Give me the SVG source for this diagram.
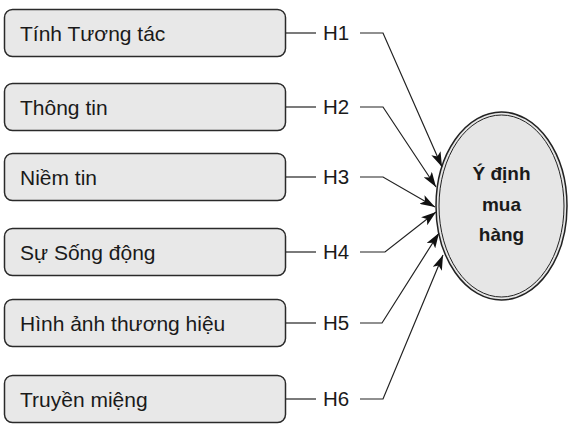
<svg xmlns="http://www.w3.org/2000/svg" width="575" height="428" viewBox="0 0 575 428">
<style>
.box{fill:#e8e8e8;stroke:#2a2a2a;stroke-width:1.5}
.lbl{font-family:"Liberation Sans",Arial,sans-serif;font-size:21px;fill:#1a1a1a}
.h{font-family:"Liberation Sans",Arial,sans-serif;font-size:20.5px;fill:#1a1a1a}
.ln{fill:none;stroke:#222;stroke-width:1.2}
.arr{fill:none;stroke:#222;stroke-width:1.2;marker-end:url(#ah)}
.ct{font-family:"Liberation Sans",Arial,sans-serif;font-size:19px;font-weight:bold;fill:#1a1a1a;text-anchor:middle}
</style>
<defs>
<marker id="ah" markerUnits="userSpaceOnUse" markerWidth="16" markerHeight="10" refX="15" refY="5" orient="auto">
<path d="M0,0 L15,5 L0,10 L3.5,5 Z" fill="#111"/>
</marker>
</defs>
<rect width="575" height="428" fill="#fff"/>
<g id="n1"><rect class="box" x="4.5" y="9.5" width="281" height="47" rx="8"/><text class="lbl" x="20" y="41">Tính Tương tác</text></g>
<g id="n2"><rect class="box" x="4.5" y="83.5" width="281" height="47" rx="8"/><text class="lbl" x="20" y="115">Thông tin</text></g>
<g id="n3"><rect class="box" x="4.5" y="153.5" width="281" height="47" rx="8"/><text class="lbl" x="20" y="185">Niềm tin</text></g>
<g id="n4"><rect class="box" x="4.5" y="228.5" width="281" height="47" rx="8"/><text class="lbl" x="20" y="260">Sự Sống động</text></g>
<g id="n5"><rect class="box" x="4.5" y="299.5" width="281" height="47" rx="8"/><text class="lbl" x="20" y="331">Hình ảnh thương hiệu</text></g>
<g id="n6"><rect class="box" x="4.5" y="375.5" width="281" height="47" rx="8"/><text class="lbl" x="20" y="407">Truyền miệng</text></g>
<g id="target">
<ellipse cx="501.5" cy="206" rx="65.5" ry="94" fill="#e6e6e6" stroke="#222" stroke-width="1.5"/>
<ellipse cx="501.5" cy="206" rx="62.5" ry="91" fill="none" stroke="#222" stroke-width="1"/>
<text class="ct" x="501.5" y="180">Ý định</text>
<text class="ct" x="501.5" y="211">mua</text>
<text class="ct" x="501.5" y="241">hàng</text>
</g>
<g id="connectors">
<line class="ln" x1="286" y1="33" x2="316" y2="33"/>
<text class="h" x="323" y="39.5">H1</text>
<polyline class="arr" points="360,33 383,33 442,167"/>
<line class="ln" x1="286" y1="107" x2="316" y2="107"/>
<text class="h" x="323" y="113.5">H2</text>
<polyline class="arr" points="360,107 383,107 436,187"/>
<line class="ln" x1="286" y1="177" x2="316" y2="177"/>
<text class="h" x="323" y="183.5">H3</text>
<polyline class="arr" points="360,177 383,177 435,207"/>
<line class="ln" x1="286" y1="252" x2="316" y2="252"/>
<text class="h" x="323" y="258.5">H4</text>
<polyline class="arr" points="360,252 385,252 436,212"/>
<line class="ln" x1="286" y1="323" x2="316" y2="323"/>
<text class="h" x="323" y="329.5">H5</text>
<polyline class="arr" points="360,323 382,323 439,233"/>
<line class="ln" x1="286" y1="399" x2="316" y2="399"/>
<text class="h" x="323" y="405.5">H6</text>
<polyline class="arr" points="360,399 383,399 443,255"/>
</g>
</svg>
